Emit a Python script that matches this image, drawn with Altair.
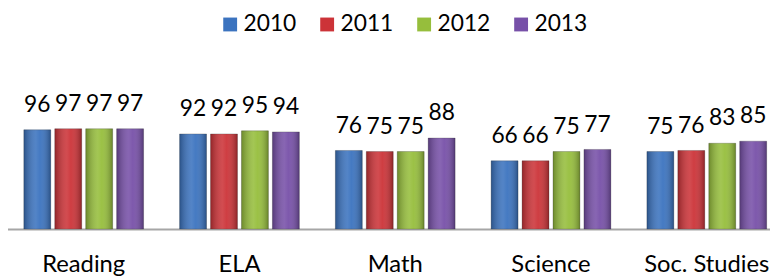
import altair as alt
import pandas as pd

categories = ["Reading", "ELA", "Math", "Science", "Soc. Studies"]
years = ["2010", "2011", "2012", "2013"]
v2010 = [96, 92, 76, 66, 75]
v2011 = [97, 92, 75, 66, 76]
v2012 = [97, 95, 75, 75, 83]
v2013 = [97, 94, 88, 77, 85]
colors = ["#3B73BF", "#CC3338", "#96BE3C", "#7750A8"]

rows = []
for y, vals in zip(years, [v2010, v2011, v2012, v2013]):
    for c, v in zip(categories, vals):
        rows.append({"category": c, "year": y, "value": v})
df = pd.DataFrame(rows)

FONT = "Lato"

x = alt.X("category:N", sort=categories,
          scale=alt.Scale(range=[-2.2, 784.8], paddingInner=0.2313, paddingOuter=0.1156),
          axis=alt.Axis(title=None, labelAngle=0, ticks=False, domainColor="#A6A6A6",
                        domainWidth=2, labelFontSize=24, labelFont=FONT, labelColor="#000000",
                        labelPadding=24))
xo = alt.XOffset("year:N", sort=years, scale=alt.Scale(paddingInner=0.13, paddingOuter=0))
y = alt.Y("value:Q", scale=alt.Scale(domain=[0, 100]), axis=None)

base = alt.Chart(df)

bars = base.mark_bar(stroke="#333333", strokeOpacity=0.35, strokeWidth=0.8).encode(
    x=x, xOffset=xo, y=y,
    color=alt.Color("year:N", sort=years,
                    scale=alt.Scale(domain=years, range=colors),
                    legend=alt.Legend(title=None, orient="none", direction="horizontal",
                                      legendX=213, legendY=-114,
                                      symbolType="square", symbolSize=196,
                                      symbolStrokeWidth=0, symbolOpacity=1,
                                      labelFontSize=23, labelFont=FONT, labelColor="#000000",
                                      labelOffset=2, columnPadding=19, padding=0)),
)

shade = base.mark_bar(
    color=alt.Gradient(
        gradient="linear", x1=0, x2=1, y1=0, y2=0,
        stops=[alt.GradientStop(color="rgba(0,0,0,0.28)", offset=0),
               alt.GradientStop(color="rgba(255,255,255,0.12)", offset=0.45),
               alt.GradientStop(color="rgba(255,255,255,0.05)", offset=0.6),
               alt.GradientStop(color="rgba(0,0,0,0.30)", offset=1)])
).encode(x=x, xOffset=xo, y=y)

labels = base.mark_text(baseline="alphabetic", dy=-18, fontSize=23, font=FONT,
                        color="#000000").encode(
    x=x, xOffset=xo, y=y, text="value:Q")

chart = alt.layer(bars, shade, labels).properties(
    width=770, height=104.5,
    autosize=alt.AutoSizeParams(type="none"),
    padding={"top": 117.5, "left": 0, "right": 0, "bottom": 46},
).configure_view(stroke=None)

chart.save("out.html", embed_options={"renderer": "svg", "actions": False})
